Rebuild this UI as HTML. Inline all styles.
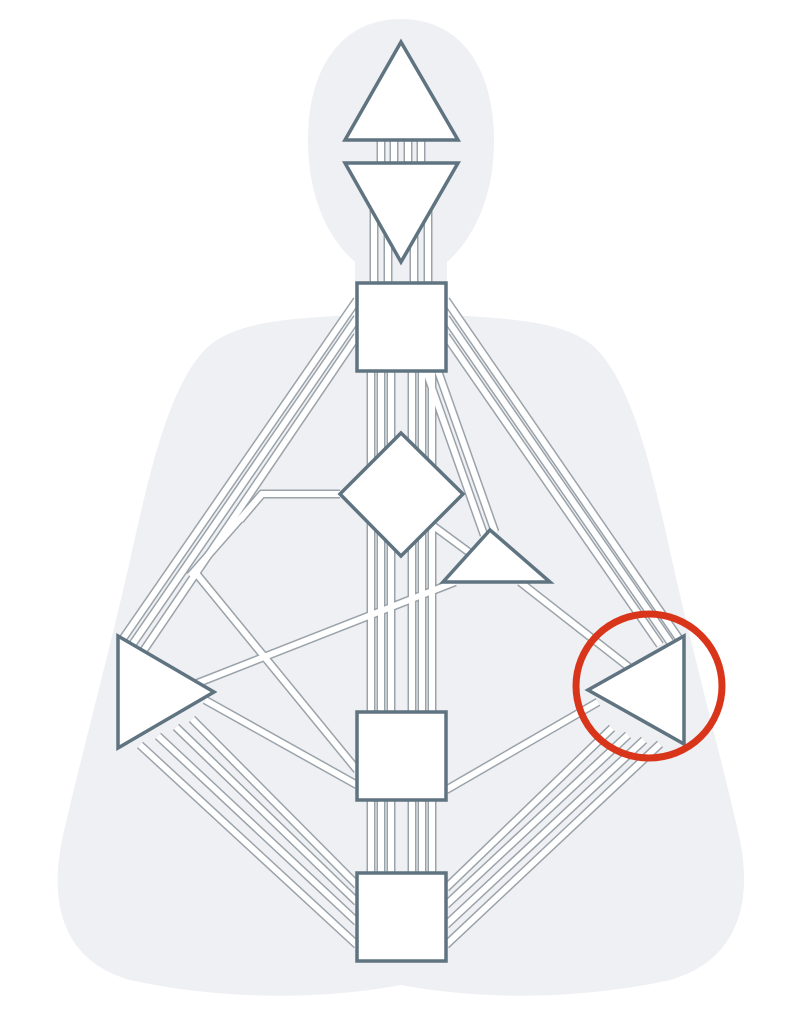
<!DOCTYPE html>
<html><head><style>html,body{margin:0;padding:0;background:#fff}svg{display:block}</style></head>
<body>
<svg width="797" height="1024" viewBox="0 0 797 1024" xmlns="http://www.w3.org/2000/svg">
<defs>
<g id="ch" fill="none">
  <path d="M381 140V165M394 140V165M408 140V165M421 140V165"/>
  <path d="M374 200L374 283M388 225L388 283M414 225L414 283M428 200L428 283"/>
  <path d="M371 371V712M381 371V712M391 371V712M412 371V712M422 371V712M432 371V712"/>
  <path d="M371 800V873M381 800V873M391 800V873M412 800V873M422 800V873M432 800V873"/>
  <path d="M357 300L122 640M357 318L132 645M357 336L144 650"/>
  <path d="M446 300L680 640M446 318L670 642M446 336L660 645"/>
  <path d="M438 371L495 532M426 371L484 535"/>
  <path d="M340 494L262 494L190 576"/>
  <path d="M262 494L240 520"/>
  <path d="M195 572L357 770"/>
  <path d="M205 700L357 785"/>
  <path d="M180 690L455 582"/>
  <path d="M520 582L630 668"/>
  <path d="M432 525L470 553"/>
  <path d="M446 790L598 702"/>
  <path d="M140 745L357 945M158 736L357 922M176 727L357 902M192 719L357 885"/>
  <path d="M660 744L446 945M644 740L446 925M628 735L446 905M612 728L446 888"/>
</g>
</defs>
<path fill="#eff0f3" d="M401 19C340 19 308 70 308 140C308 200 330 240 355 262L355 315C300 318 240 320 210 345C170 380 150 470 130 560C110 650 80 760 62 840C50 900 60 960 130 980C220 1000 320 1000 401 985C480 1000 580 1000 670 980C740 960 752 900 740 840C722 760 692 650 672 560C652 470 632 380 592 345C562 320 502 318 447 315L447 262C472 240 494 200 494 140C494 70 462 19 401 19Z"/>
<use href="#ch" stroke="#9aa3aa" stroke-width="9"/>
<use href="#ch" stroke="#ffffff" stroke-width="6"/>
<g fill="#fff" stroke="#5f7480" stroke-width="3.5" stroke-linejoin="miter">
  <polygon points="401,42 458,140 345,140"/>
  <polygon points="345,163 458,163 401,262"/>
  <rect x="357" y="283" width="89" height="88"/>
  <polygon points="401,433 463,494 401,556 340,494"/>
  <polygon points="490,530 550,582 443,582"/>
  <polygon points="118,636 214,692 118,748"/>
  <polygon points="684,636 588,690 684,744"/>
  <rect x="357" y="712" width="89" height="88"/>
  <rect x="357" y="873" width="89" height="88"/>
</g>
<ellipse cx="649" cy="686" rx="73" ry="72" fill="none" stroke="#d8351b" stroke-width="7"/>
</svg>
</body></html>
